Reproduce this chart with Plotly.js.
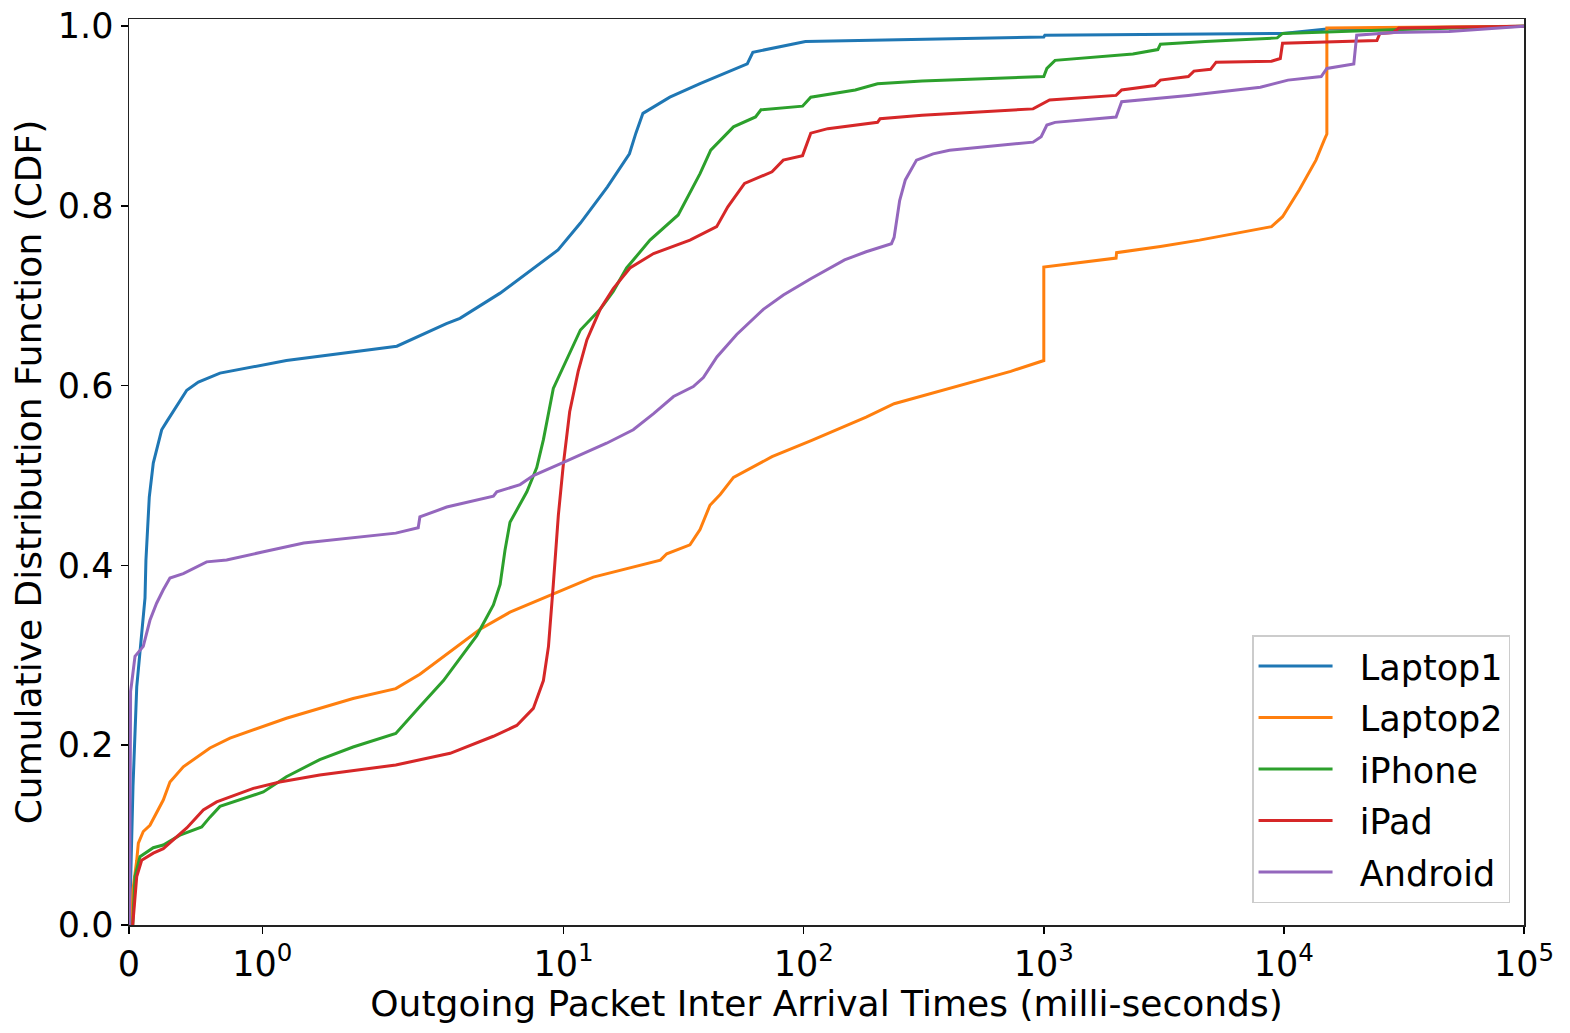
<!DOCTYPE html>
<html>
<head>
<meta charset="utf-8">
<script src="https://cdn.plot.ly/plotly-3.0.1.min.js"></script>
<style>
  html, body { margin: 0; padding: 0; background: #fff; }
  #chart { width: 1570px; height: 1033px; }
</style>
</head>
<body>
<div id="chart"></div>
<script>
// inter arrival times in ms
let laptop1_x = [0.004, 0.03, 0.058, 0.088, 0.12, 0.127, 0.152, 0.182, 0.245, 0.283, 0.433, 0.52, 0.682, 1.18, 2.02, 3.25, 3.7, 5.44, 9.48, 11.75, 15.2, 18.8, 20.0, 21.4, 27.7, 37, 58.2, 61.4, 101.7, 1000, 1010, 9870, 15100, 28600, 100000];
let laptop1_y = [0, 0.154, 0.265, 0.314, 0.364, 0.406, 0.476, 0.514, 0.551, 0.56, 0.595, 0.604, 0.614, 0.628, 0.644, 0.669, 0.675, 0.703, 0.751, 0.781, 0.821, 0.858, 0.881, 0.903, 0.921, 0.936, 0.958, 0.971, 0.983, 0.988, 0.990, 0.992, 0.997, 0.998, 1.0];

let laptop2_x = [0.02, 0.03, 0.058, 0.07, 0.107, 0.157, 0.257, 0.307, 0.407, 0.607, 0.757, 1.18, 1.68, 2.0, 2.52, 3.16, 4.49, 5.98, 7.98, 10.3, 13.3, 25.3, 26.9, 33.6, 37, 40.7, 44.9, 51, 73.8, 107.4, 182, 238, 405, 728, 1000, 1000, 2000, 2010, 3060, 4450, 8880, 9870, 11600, 13600, 14700, 15100, 15100, 100000];
let laptop2_y = [0, 0.04, 0.072, 0.091, 0.104, 0.111, 0.139, 0.159, 0.176, 0.197, 0.208, 0.23, 0.252, 0.263, 0.279, 0.299, 0.329, 0.348, 0.362, 0.375, 0.387, 0.406, 0.413, 0.423, 0.44, 0.467, 0.479, 0.498, 0.521, 0.539, 0.565, 0.58, 0.597, 0.616, 0.628, 0.732, 0.742, 0.748, 0.755, 0.762, 0.777, 0.788, 0.818, 0.851, 0.873, 0.88, 0.998, 1.0];

let iphone_x = [0.028, 0.045, 0.082, 0.182, 0.257, 0.382, 0.545, 0.607, 0.682, 1.007, 1.18, 1.43, 1.68, 2.0, 2.52, 3.16, 4.35, 5.1, 5.44, 5.7, 5.98, 7.03, 7.73, 8.24, 9.06, 10.6, 11.75, 14.2, 16.1, 18.3, 22.9, 30, 37, 41, 51, 63, 66.4, 98.9, 107, 164, 203, 311, 1000, 1030, 1114, 2350, 2985, 3060, 4700, 9380, 9870, 28600, 100000];
let iphone_y = [0, 0.054, 0.076, 0.086, 0.089, 0.1, 0.109, 0.12, 0.132, 0.148, 0.165, 0.184, 0.198, 0.213, 0.243, 0.272, 0.322, 0.356, 0.379, 0.417, 0.448, 0.482, 0.509, 0.54, 0.597, 0.636, 0.662, 0.685, 0.705, 0.731, 0.762, 0.79, 0.836, 0.862, 0.888, 0.899, 0.907, 0.911, 0.921, 0.929, 0.936, 0.939, 0.944, 0.953, 0.962, 0.969, 0.974, 0.98, 0.983, 0.987, 0.992, 0.996, 1.0];

let ipad_x = [0.028, 0.058, 0.095, 0.182, 0.257, 0.433, 0.557, 0.657, 0.932, 1.13, 1.43, 2.0, 3.37, 5.1, 6.38, 7.48, 8.24, 8.65, 9.06, 9.51, 9.98, 10.6, 11.5, 12.5, 14.2, 16.1, 18.9, 23.7, 33.6, 37, 43.4, 48.3, 56.7, 73.8, 82.2, 98.9, 107, 126, 203, 208, 311, 902, 1000, 1057, 2000, 2110, 2900, 3060, 4000, 4220, 4950, 5220, 8880, 9660, 9870, 24400, 25100, 28600, 30100, 100000];
let ipad_y = [0, 0.054, 0.072, 0.08, 0.085, 0.108, 0.128, 0.137, 0.152, 0.159, 0.167, 0.178, 0.191, 0.21, 0.222, 0.241, 0.272, 0.31, 0.379, 0.456, 0.513, 0.571, 0.616, 0.651, 0.685, 0.708, 0.731, 0.747, 0.762, 0.768, 0.777, 0.799, 0.825, 0.838, 0.851, 0.856, 0.881, 0.886, 0.893, 0.897, 0.901, 0.908, 0.914, 0.918, 0.923, 0.929, 0.934, 0.94, 0.944, 0.95, 0.952, 0.96, 0.961, 0.964, 0.981, 0.984, 0.992, 0.993, 0.998, 1.0];

let android_x = [0.004, 0.012, 0.02, 0.045, 0.107, 0.157, 0.207, 0.257, 0.307, 0.407, 0.582, 0.732, 1.0, 1.31, 2.0, 2.48, 2.52, 3.26, 5.1, 5.27, 6.59, 7.48, 9.67, 12.5, 15.1, 19.5, 23.7, 28.7, 34.7, 38.2, 43.5, 52.6, 67.9, 82.3, 107, 148, 182, 232, 238, 251, 265, 295, 346, 405, 902, 975, 1030, 1114, 2000, 2110, 4000, 7980, 10400, 14300, 15100, 19550, 20100, 28600, 48700, 100000];
let android_y = [0, 0.26, 0.269, 0.299, 0.31, 0.339, 0.358, 0.373, 0.386, 0.391, 0.404, 0.406, 0.415, 0.425, 0.436, 0.442, 0.454, 0.465, 0.477, 0.482, 0.49, 0.5, 0.513, 0.526, 0.536, 0.551, 0.569, 0.588, 0.599, 0.609, 0.632, 0.657, 0.685, 0.701, 0.719, 0.74, 0.749, 0.758, 0.765, 0.806, 0.829, 0.851, 0.858, 0.862, 0.871, 0.877, 0.89, 0.893, 0.899, 0.916, 0.923, 0.932, 0.94, 0.944, 0.953, 0.958, 0.99, 0.993, 0.994, 1.0];

let device_names = ['Laptop1', 'Laptop2', 'iPhone', 'iPad', 'Android'];
let device_colors = ['#1f77b4', '#ff7f0e', '#2ca02c', '#d62728', '#9467bd'];

let tick_ms = [0, 1, 10, 100, 1000, 10000, 100000];
let tick_labels = ['0', '10<sup>0</sup>', '10<sup>1</sup>', '10<sup>2</sup>', '10<sup>3</sup>', '10<sup>4</sup>', '10<sup>5</sup>'];

// symlog like matplotlib: linthresh = 2, linscale = 1, base 10
let LINTHRESH = 2;
let LINSCALE = 1 / (1 - 1 / 10);
function Symlog(x) {
    if (x <= LINTHRESH) return x / LINTHRESH * LINSCALE;
    return LINSCALE + Math.log10(x / LINTHRESH);
}

let font_family = '"DejaVu Sans", "Liberation Sans", sans-serif';
let all_x = [laptop1_x, laptop2_x, iphone_x, ipad_x, android_x];
let all_y = [laptop1_y, laptop2_y, iphone_y, ipad_y, android_y];

let data = [];
for (let i = 0; i < device_names.length; ++i) {
    data.push({
        x: all_x[i].map(Symlog),
        y: all_y[i],
        mode: 'lines',
        // non-breaking spaces push the label away from the line sample
        name: '\u00a0\u00a0' + device_names[i],
        legendgroup: device_names[i],
        line: { color: device_colors[i], width: 3 },
        hoverinfo: 'skip'
    });
}

let layout = {
    width: 1570,
    height: 1033,
    margin: { l: 129, r: 46, t: 19, b: 108 },
    paper_bgcolor: '#fff',
    plot_bgcolor: '#fff',
    font: { family: font_family, size: 35, color: '#000' },
    showlegend: true,
    legend: {
        x: 0.99, xanchor: 'right',
        y: 0.024, yanchor: 'bottom',
        bgcolor: 'rgba(255,255,255,0.8)',
        bordercolor: '#cccccc',
        borderwidth: 1.5,
        font: { family: font_family, size: 35, color: '#000' },
        tracegroupgap: 3,
        itemwidth: 74
    },
    xaxis: {
        range: [0, Symlog(100000)],
        tickmode: 'array',
        tickvals: tick_ms.map(Symlog),
        ticktext: tick_labels,
        ticks: 'outside', ticklen: 7, tickwidth: 1.5, tickcolor: '#000',
        showline: true, linecolor: '#222', linewidth: 1.5, mirror: true,
        showgrid: false, zeroline: false,
        tickfont: { family: font_family, size: 35, color: '#000' },
        title: { text: 'Outgoing Packet Inter Arrival Times (milli-seconds)', font: { family: font_family, size: 36, color: '#000' }, standoff: 4 }
    },
    yaxis: {
        range: [0, 1.008],
        tickmode: 'array',
        tickvals: [0, 0.2, 0.4, 0.6, 0.8, 1.0],
        ticktext: ['0.0', '0.2', '0.4', '0.6', '0.8', '1.0'],
        ticks: 'outside', ticklen: 7, tickwidth: 1.5, tickcolor: '#000',
        showline: true, linecolor: '#222', linewidth: 1.5, mirror: true,
        showgrid: false, zeroline: false,
        tickfont: { family: font_family, size: 35, color: '#000' },
        title: { text: 'Cumulative Distribution Function (CDF)', font: { family: font_family, size: 36, color: '#000' }, standoff: 5 }
    }
};

Plotly.newPlot('chart', data, layout, { staticPlot: true });
</script>
</body>
</html>
